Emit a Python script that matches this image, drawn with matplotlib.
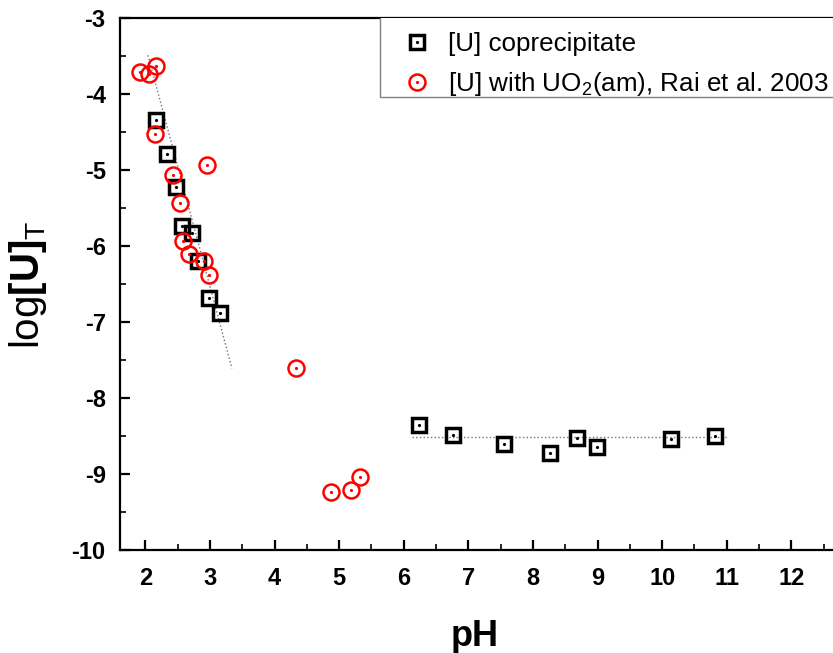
import matplotlib
matplotlib.use("Agg")
import matplotlib.pyplot as plt
from matplotlib.ticker import MultipleLocator
from matplotlib.legend_handler import HandlerTuple
from matplotlib.patches import Rectangle

plt.rcParams['font.family'] = ['Liberation Sans', 'DejaVu Sans']
plt.rcParams['mathtext.fontset'] = 'custom'
plt.rcParams['mathtext.rm'] = 'Liberation Sans'
plt.rcParams['mathtext.bf'] = 'Liberation Sans:bold'
plt.rcParams['axes.unicode_minus'] = False

# [U] coprecipitate
cop_ph = [2.17, 2.34, 2.48, 2.57, 2.72, 2.82, 2.98, 3.15,
          6.24, 6.77, 7.55, 8.26, 8.68, 8.99, 10.13, 10.82]
cop_logu = [-4.34, -4.79, -5.22, -5.74, -5.83, -6.20, -6.68, -6.88,
            -8.35, -8.48, -8.61, -8.72, -8.53, -8.64, -8.54, -8.50]

# [U] with UO2(am), Rai et al. 2003
rai_ph = [1.91, 2.05, 2.17, 2.15, 2.43, 2.96, 2.54, 2.59, 2.67, 2.90, 2.98,
          4.33, 4.88, 5.18, 5.32]
rai_logu = [-3.71, -3.74, -3.63, -4.52, -5.07, -4.94, -5.43, -5.94, -6.11,
            -6.20, -6.38, -7.60, -9.23, -9.21, -9.04]

# guide lines: acidic slope and neutral/alkaline plateau
slope_ph = [2.04, 3.34]
slope_logu = [-3.49, -7.61]
plateau_ph = [6.12, 11.01]
plateau_logu = [-8.51, -8.51]

fig = plt.figure(figsize=(8.33, 6.53), dpi=100)
ax = fig.add_axes([0.1435, 0.1577, 0.884, 0.8147])

ax.plot(slope_ph, slope_logu, ls=':', color='0.45', lw=1.0, zorder=1)
ax.plot(plateau_ph, plateau_logu, ls=':', color='0.45', lw=1.0, zorder=1)

sq, = ax.plot(cop_ph, cop_logu, ls='none', marker='s', ms=10.5, mew=2.5,
              mec='black', mfc='none', zorder=3)
sq_dot, = ax.plot(cop_ph, cop_logu, ls='none', marker='o', ms=2.3, mew=0,
                  mfc='black', zorder=3)
ci, = ax.plot(rai_ph, rai_logu, ls='none', marker='o', ms=11.5, mew=1.8,
              mec='#ff0000', mfc='none', zorder=4)
ci_dot, = ax.plot(rai_ph, rai_logu, ls='none', marker='o', ms=2.3, mew=0,
                  mfc='#ff0000', zorder=4)

ax.set_xlim(1.6, 13.0)
ax.set_ylim(-10, -3)
ax.xaxis.set_major_locator(MultipleLocator(1))
ax.xaxis.set_minor_locator(MultipleLocator(0.5))
ax.yaxis.set_major_locator(MultipleLocator(1))
ax.yaxis.set_minor_locator(MultipleLocator(0.5))
ax.set_xticks(range(2, 13))

for side in ['left', 'bottom', 'top']:
    ax.spines[side].set_linewidth(1.6)
    ax.spines[side].set_color('black')
ax.spines['right'].set_visible(False)

ax.tick_params(which='major', direction='in', length=7.5, width=1.6,
               labelsize=17, top=False, right=False)
ax.tick_params(axis='x', which='major', pad=12)
ax.tick_params(axis='y', which='major', pad=10)
ax.tick_params(which='minor', direction='in', length=4, width=1.2,
               top=False, right=False)
for lab in ax.get_xticklabels() + ax.get_yticklabels():
    lab.set_fontweight('bold')

fig.text(475 / 833, 1 - 636 / 653, 'pH', fontsize=26, fontweight='bold',
         ha='center', va='center')
fig.text(28 / 833, 1 - 285 / 653, r'log$\mathbf{[U]}_{\mathrm{T}}$',
         fontsize=29, rotation=90, ha='center', va='center')

# legend box hangs from the top spine
ax.add_patch(Rectangle((0.354, 0.8515), 1.0, 0.2, transform=ax.transAxes,
                       facecolor='white', edgecolor='0.5', lw=1.0,
                       zorder=5, clip_on=True))

leg = ax.legend([(sq, sq_dot), (ci, ci_dot)],
                ['[U] coprecipitate', '[U] with UO$_2$(am), Rai et al. 2003'],
                handler_map={tuple: HandlerTuple(ndivide=1)},
                loc='upper left', bbox_to_anchor=(0.354, 0.9925), borderaxespad=0,
                fontsize=18.7, frameon=False,
                handlelength=2.0, handletextpad=0.2, labelspacing=0.54,
                borderpad=0.4)
leg.set_zorder(6)

fig.savefig('out.png', dpi=100)
